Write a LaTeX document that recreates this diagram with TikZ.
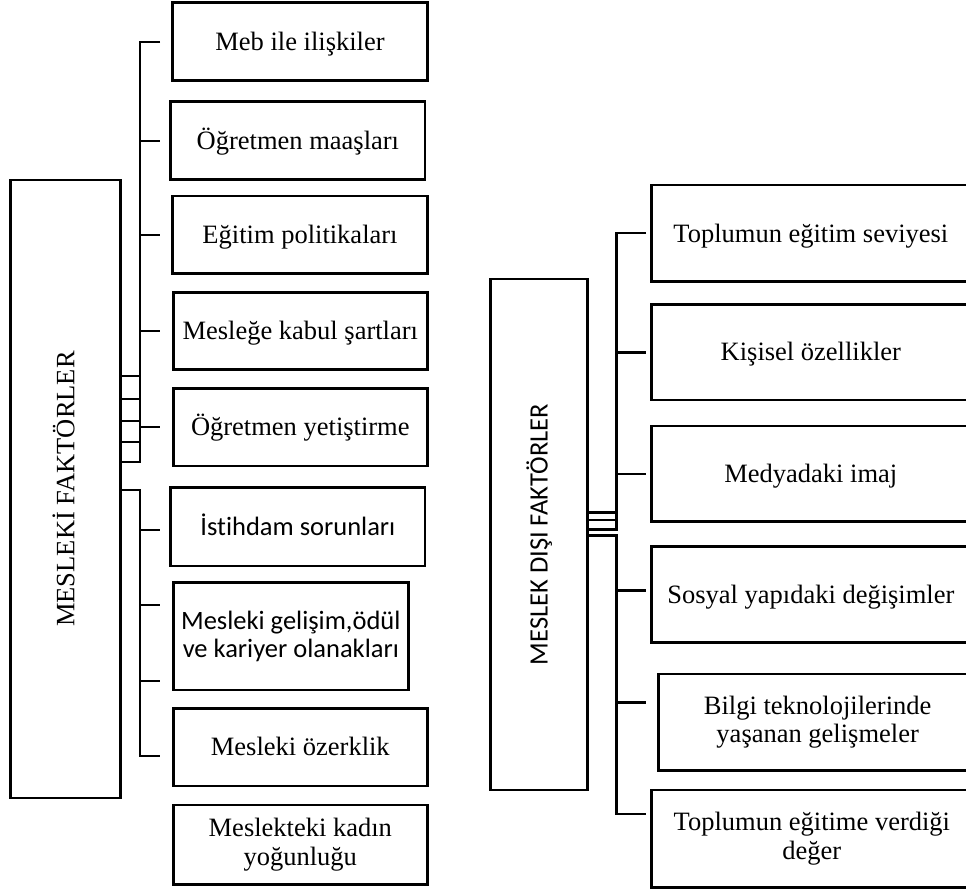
\documentclass[tikz,border=0pt]{standalone}
\usepackage{fontspec}
\setmainfont{Liberation Serif}
\newfontfamily\calibrifont[Ligatures=NoCommon]{Carlito}
\begin{document}
\begin{tikzpicture}[x=1pt,y=-1pt,
  box/.style={draw, line width=2.7pt, inner sep=0pt, align=center, font=\fontsize{26.5}{28.5}\selectfont},
  one/.style={text height=17.5pt, text depth=0pt},
  onec/.style={text height=17.1pt, text depth=0pt},
  link/.style={line width=2.6pt},
]
\useasboundingbox (0,0) rectangle (966,890);
\begin{scope}
\clip (0,0) rectangle (966,890);
% ---------- left group ----------
\node[box, minimum width=110pt, minimum height=618pt] (mainL) at (65.7,489)
  {\rotatebox{90}{\raisebox{0pt}[0.662em][0pt]{MESLEKİ FAKTÖRLER}}};
\node[box,one,minimum width=254.6pt,minimum height=77.6pt] (l1) at (300,41.5) {Meb ile ilişkiler};
\node[box,one,minimum width=254.3pt,minimum height=77.6pt] (l2) at (297.9,140.5) {Öğretmen maaşları};
\node[box,one,minimum width=254.6pt,minimum height=77.3pt] (l3) at (300,234.7) {Eğitim politikaları};
\node[box,one,minimum width=254pt,minimum height=77pt] (l4) at (300.3,330.8) {Mesleğe kabul şartları};
\node[box,one,minimum width=254pt,minimum height=77.7pt] (l5) at (300.3,427.2) {Öğretmen yetiştirme};
\node[box,onec,minimum width=254.3pt,minimum height=78.7pt] (l6) at (297.9,526.7) {\calibrifont İstihdam sorunları};
\node[box,minimum width=235pt,minimum height=107.7pt] (l7) at (290.8,636.2) {\calibrifont Mesleki gelişim,ödül\\\calibrifont ve kariyer olanakları};
\node[box,one,minimum width=254pt,minimum height=77.7pt] (l8) at (300.3,747.2) {Mesleki özerklik};
\node[box,minimum width=254pt,minimum height=79.3pt] (l9) at (300.3,844.7) {Meslekteki kadın\\yoğunluğu};

\coordinate (tl1) at (160,42);
\coordinate (tl9) at (160,756);
\draw[link] (tl1) -- (140,42) -- (140,462) -- (mainL.east |- 0,462);
\foreach \yy in {141,235,331,427} \draw[link] (140,\yy) -- (160,\yy);
\foreach \yy in {376,399,421,442} \draw[link] (mainL.east |- 0,\yy) -- (140,\yy);
\draw[link] (mainL.east |- 0,490) -- (140,490) -- (140,756) -- (tl9);
\foreach \yy in {530,605,681} \draw[link] (140,\yy) -- (160,\yy);

% ---------- right group ----------
\node[box, minimum width=97pt, minimum height=511pt] (mainR) at (539.2,534.5)
  {\calibrifont\rotatebox{90}{\raisebox{0pt}[0.644em][0pt]{MESLEK DIŞI FAKTÖRLER}}};
\node[box,one,minimum width=318.3pt,minimum height=96.7pt] (r1) at (810.85,233.3) {Toplumun eğitim seviyesi};
\node[box,one,minimum width=318.3pt,minimum height=95.7pt] (r2) at (810.85,352.2) {Kişisel özellikler};
\node[box,one,minimum width=318.3pt,minimum height=95.7pt] (r3) at (810.85,473.8) {Medyadaki imaj};
\node[box,one,minimum width=318.3pt,minimum height=96pt] (r4) at (810.85,594.7) {Sosyal yapıdaki değişimler};
\node[box,minimum width=318.7pt,minimum height=96.7pt] (r5) at (817.65,722.3) {Bilgi teknolojilerinde\\yaşanan gelişmeler};
\node[box,minimum width=320.3pt,minimum height=97.3pt] (r6) at (811.85,838.7) {Toplumun eğitime verdiği\\değer};

\coordinate (tr1) at (646,233);
\coordinate (tr6) at (646,814);
\draw[link] (tr1) -- (616.7,233) -- (616.7,529.3) -- (mainR.east |- 0,529.3);
\foreach \yy in {512.3,520} \draw[link] (mainR.east |- 0,\yy) -- (616.7,\yy);
\foreach \yy in {352.7,474} \draw[link] (616.7,\yy) -- (646,\yy);
\draw[link] (mainR.east |- 0,535.5) -- (616.7,535.5) -- (616.7,814) -- (tr6);
\foreach \yy in {590.7,702.7} \draw[link] (616.7,\yy) -- (646,\yy);
\end{scope}
\end{tikzpicture}
\end{document}
